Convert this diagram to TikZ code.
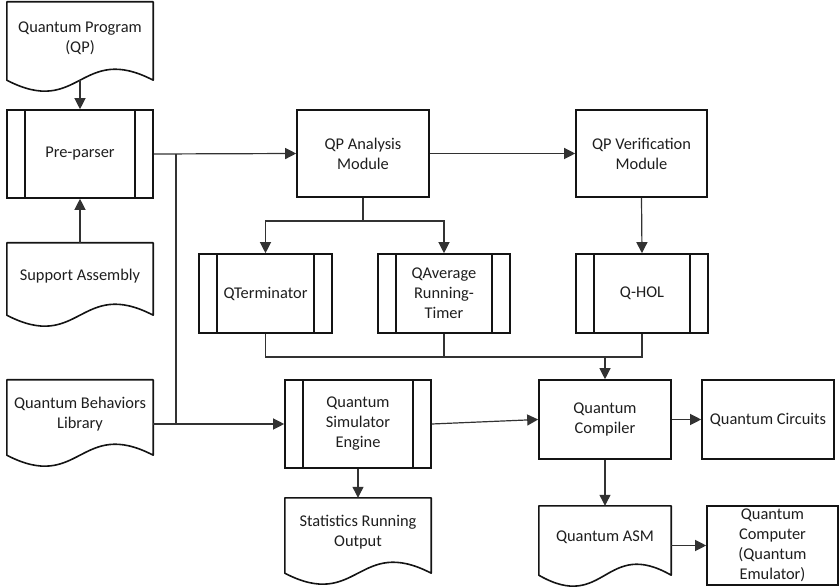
\documentclass[tikz,border=0pt]{standalone}
\usepackage{fontspec}
\setmainfont{Carlito}
\usetikzlibrary{arrows.meta,calc}
\definecolor{boxline}{RGB}{20,20,20}
\definecolor{linkgray}{RGB}{50,50,50}
\definecolor{textgray}{RGB}{30,30,30}
% outline of a document symbol: straight top and sides, wavy bottom edge
\newcommand\docframe[1]{%
  \draw[docline] ([yshift=-6pt]#1.south west) -- (#1.north west) -- (#1.north east)
    -- ([yshift=-6pt]#1.south east)
    .. controls ([yshift=32pt]#1.south) and ([yshift=-44pt]#1.south) .. ([yshift=-6pt]#1.south west)
    -- cycle;}
\begin{document}
\begin{tikzpicture}[x=1pt,y=-1pt,
  every node/.style={font=\fontsize{16.4}{20}\selectfont, text=textgray, align=center, inner sep=0pt},
  box/.style={draw=boxline, line width=1.6pt, rectangle},
  proc/.style={box, path picture={
      \draw[boxline, line width=1.6pt]
        ([xshift=18pt]path picture bounding box.north west) -- ([xshift=18pt]path picture bounding box.south west)
        ([xshift=-18pt]path picture bounding box.north east) -- ([xshift=-18pt]path picture bounding box.south east);}},
  docnode/.style={rectangle},
  docline/.style={draw=boxline, line width=1.6pt, line join=round},
  link/.style={draw=linkgray, line width=1.2pt},
  flow/.style={link, -{Triangle[length=11pt,width=11pt]}}
]
\useasboundingbox (0,0) rectangle (839,588);

% input documents
\node[docnode, minimum width=146pt, minimum height=72pt] (qp)  at (80,38)    {Quantum Program\\(QP)};
\node[docnode, minimum width=146pt, minimum height=66pt] (sa)  at (80,276)   {Support Assembly};
\node[docnode, minimum width=146pt, minimum height=69pt] (qbl) at (80,414.5) {Quantum Behaviors\\Library};
\docframe{qp}
\docframe{sa}
\docframe{qbl}

% processing modules
\node[proc, minimum width=146pt, minimum height=88pt] (pre)   at (80,154)      {Pre-parser};
\node[box,  minimum width=132pt, minimum height=87pt] (qpa)   at (363,153.5)   {QP Analysis\\Module};
\node[box,  minimum width=131pt, minimum height=87pt] (qpv)   at (641.5,153.5) {QP Verification\\Module};
\node[proc, minimum width=133pt, minimum height=79pt] (qterm) at (265.5,293.5) {QTerminator};
\node[proc, minimum width=132pt, minimum height=79pt] (qavg)  at (444,293.5)   {QAverage\\Running-\\Timer};
\node[proc, minimum width=132pt, minimum height=79pt] (qhol)  at (642,293.5)   {Q-HOL};
\node[proc, minimum width=146pt, minimum height=88pt] (sim)   at (358,424)     {Quantum\\Simulator\\Engine};
\node[box,  minimum width=132pt, minimum height=79pt] (comp)  at (605,419.5)   {Quantum\\Compiler};
\node[box,  minimum width=132pt, minimum height=79pt] (circ)  at (768,419.5)   {Quantum Circuits};
\node[box,  minimum width=131pt, minimum height=79pt] (qc)    at (772.5,545.5) {Quantum\\Computer\\(Quantum\\Emulator)};

% output documents
\node[docnode, minimum width=146pt, minimum height=69pt] (sro) at (358,532.5) {Statistics Running\\Output};
\node[docnode, minimum width=132pt, minimum height=63pt] (asm) at (605,537.5) {Quantum ASM};
\docframe{sro}
\docframe{asm}

% branch and merge points
\coordinate (fork)  at (176,154);
\coordinate (split) at (363,221);
\coordinate (merge) at (605,357);

% connectors
\draw[flow] ([yshift=-6pt]qp.south) -- (pre.north);
\draw[flow] (sa.north) -- (pre.south);
\draw[flow] (pre.east) -- (qpa.west);
\draw[flow] (fork) |- (sim.west);
\draw[link] (qbl.east |- sim.west) -- (fork |- sim.west);
\draw[flow] (qpa.east) -- (qpv.west);
\draw[link] (qpa.south) -- (split);
\draw[flow] (split) -| (qterm.north);
\draw[flow] (split) -| (qavg.north);
\draw[flow] (qpv.south) -- (qhol.north);
\draw[link] (qterm.south) |- (merge);
\draw[link] (qavg.south) |- (merge);
\draw[link] (qhol.south) |- (merge);
\draw[flow] (merge) -- (comp.north);
\draw[flow] (sim.east) -- (comp.west);
\draw[flow] (sim.south) -- (sro.north);
\draw[flow] (comp.east) -- (circ.west);
\draw[flow] (comp.south) -- (asm.north);
\draw[flow] (asm.east |- qc.west) -- (qc.west);
\end{tikzpicture}
\end{document}
